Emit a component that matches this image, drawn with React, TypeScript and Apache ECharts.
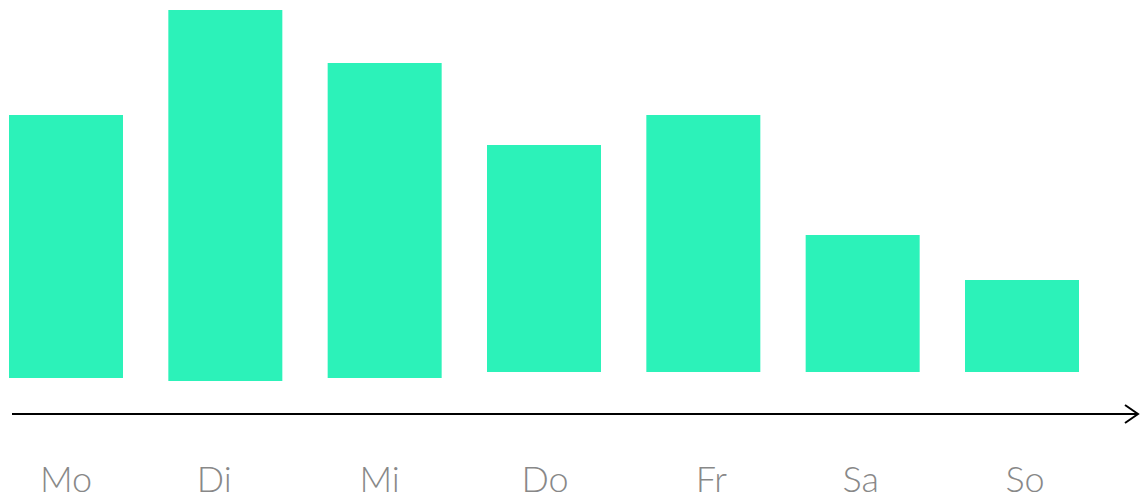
import React, { useEffect, useRef } from "react";
import * as echarts from "echarts";

const days = ["Mo", "Di", "Mi", "Do", "Fr", "Sa", "So"];
// floating bars: offset of bar bottom above baseline, and bar height
const barBase = [22, 19, 22, 28, 28, 28, 28];
const barHeight = [263, 371, 315, 227, 257, 137, 92];
// small horizontal nudge of each label relative to its bar (px)
const labelShift = [0, -11, -5, 1, 8, -2, 3];

export default function App() {
  const ref = useRef<HTMLDivElement>(null);
  useEffect(() => {
    if (!ref.current) return;
    const chart = echarts.init(ref.current, null, { renderer: "svg" });
    const categoryData = days.map((d, i) => {
      const s = labelShift[i];
      return {
        value: d,
        textStyle: {
          padding: s >= 0 ? [0, 0, 0, 2 * s] : [0, -2 * s, 0, 0],
        },
      };
    });
    chart.setOption({
      animation: false,
      backgroundColor: "#ffffff",
      grid: { left: 66, right: 118, top: 10, bottom: 96, containLabel: false },
      xAxis: {
        type: "category",
        data: categoryData,
        boundaryGap: false,
        axisLine: { show: false },
        axisTick: { show: false },
        splitLine: { show: false },
        axisLabel: {
          color: "#888888",
          fontSize: 36,
          lineHeight: 28,
          fontFamily: "Lato",
          fontWeight: 300,
          margin: 64,
        },
      },
      yAxis: {
        type: "value",
        min: 0,
        max: 390,
        show: false,
        splitLine: { show: false },
      },
      series: [
        {
          type: "bar",
          stack: "s",
          data: barBase,
          barWidth: 114,
          itemStyle: { color: "transparent" },
          silent: true,
        },
        {
          type: "bar",
          stack: "s",
          data: barHeight,
          barWidth: 114,
          itemStyle: { color: "#2CF2B9" },
        },
      ],
      graphic: [
        {
          type: "line",
          shape: { x1: 12, y1: 414, x2: 1138, y2: 414 },
          style: { stroke: "#000000", lineWidth: 2 },
        },
        {
          type: "polyline",
          shape: { points: [[1125, 405], [1138, 414], [1125, 423]] },
          style: { stroke: "#000000", lineWidth: 2, fill: "none" },
        },
      ],
    });
    return () => chart.dispose();
  }, []);
  return (
    <div
      ref={ref}
      style={{ position: "fixed", left: 0, top: 0, width: 1140, height: 496 }}
    />
  );
}
